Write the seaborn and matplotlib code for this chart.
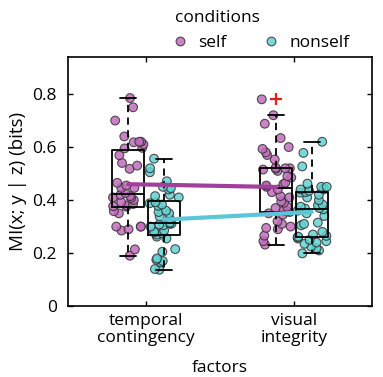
import numpy as np
import pandas as pd
import matplotlib
matplotlib.use("Agg")
import matplotlib.pyplot as plt
import seaborn as sns

# ---------------- data ----------------
factors = ["temporal\ncontingency", "visual\nintegrity"]
conditions = ["self", "nonself"]

temporal_self = [0.19, 0.214, 0.285, 0.29, 0.30, 0.30, 0.30, 0.35, 0.358, 0.375,
                 0.377, 0.38, 0.385, 0.392, 0.40, 0.408, 0.41, 0.415, 0.42, 0.427,
                 0.446, 0.446, 0.455, 0.465, 0.518, 0.53, 0.54, 0.569, 0.595, 0.597,
                 0.61, 0.618, 0.62, 0.62, 0.64, 0.70, 0.75, 0.785]
temporal_nonself = [0.137, 0.14, 0.165, 0.17, 0.175, 0.18, 0.205, 0.215, 0.255, 0.262,
                    0.27, 0.275, 0.278, 0.28, 0.285, 0.30, 0.305, 0.308, 0.31, 0.312,
                    0.315, 0.33, 0.338, 0.35, 0.355, 0.36, 0.378, 0.383, 0.388, 0.392,
                    0.41, 0.415, 0.42, 0.44, 0.445, 0.45, 0.471, 0.505, 0.52, 0.556]
visual_self = [0.232, 0.245, 0.266, 0.29, 0.295, 0.30, 0.31, 0.32, 0.345, 0.35,
               0.355, 0.357, 0.36, 0.37, 0.375, 0.39, 0.395, 0.41, 0.415, 0.43,
               0.44, 0.45, 0.455, 0.46, 0.465, 0.485, 0.49, 0.51, 0.515, 0.518,
               0.52, 0.52, 0.522, 0.553, 0.57, 0.58, 0.593, 0.60, 0.634, 0.688,
               0.72, 0.78]
visual_nonself = [0.199, 0.21, 0.218, 0.225, 0.235, 0.24, 0.245, 0.25, 0.255, 0.26,
                  0.262, 0.265, 0.27, 0.28, 0.305, 0.31, 0.315, 0.34, 0.35, 0.36,
                  0.365, 0.368, 0.37, 0.375, 0.38, 0.383, 0.40, 0.41, 0.42, 0.428,
                  0.43, 0.435, 0.44, 0.44, 0.445, 0.45, 0.45, 0.462, 0.527, 0.578,
                  0.62]

yticks = [0, 0.2, 0.4, 0.6, 0.8]
ytick_labels = ["0", "0.2", "0.4", "0.6", "0.8"]

# ---------------- build table ----------------
series = {
    (factors[0], "self"): temporal_self,
    (factors[0], "nonself"): temporal_nonself,
    (factors[1], "self"): visual_self,
    (factors[1], "nonself"): visual_nonself,
}
rows = []
for (f, c), vals in series.items():
    for v in vals:
        rows.append({"factor": f, "condition": c, "value": v})
df = pd.DataFrame(rows)

# dodge layout (style, not data)
dodge = {"self": -0.12, "nonself": 0.12}
df["pos"] = df["factor"].map({f: i for i, f in enumerate(factors)}) + df["condition"].map(dodge)

point_colors = {"self": "#C46CBE", "nonself": "#62D2D2"}
line_colors = {"self": "#A0409C", "nonself": "#5CC6D8"}

FS = 12.5

# ---------------- plot ----------------
sns.set_style("white")
plt.rcParams["font.family"] = ["Open Sans", "DejaVu Sans"]
plt.rcParams.update({"text.color": "black", "axes.labelcolor": "black",
                     "xtick.color": "black", "ytick.color": "black"})

fig = plt.figure(figsize=(3.83, 3.77), dpi=100)
ax = fig.add_axes([0.1775, 0.188, 0.7935, 0.661])

np.random.seed(3)
sns.stripplot(data=df, x="pos", y="value", hue="condition", hue_order=conditions,
              palette=point_colors, native_scale=True, dodge=False, jitter=0.45,
              size=6.3, linewidth=0.8, edgecolor="#333333", alpha=0.85,
              ax=ax, zorder=2)

sns.boxplot(data=df, x="pos", y="value", hue="condition", hue_order=conditions,
            palette={"self": "black", "nonself": "black"}, native_scale=True,
            dodge=False, fill=False, width=0.9, linewidth=1.3, legend=False,
            capwidths=0.108,
            whiskerprops={"linestyle": (0, (4, 3))},
            flierprops={"marker": "+", "markeredgecolor": "#E0201B",
                        "markersize": 8, "markeredgewidth": 1.6},
            ax=ax)
for ln in ax.lines:
    ln.set_zorder(3)

sns.lineplot(data=df, x="pos", y="value", hue="condition", hue_order=conditions,
             palette=line_colors, estimator="mean", errorbar=None, linewidth=3.0,
             legend=False, ax=ax, zorder=4)

ax.set_xlim(-0.527, 1.527)
ax.set_ylim(0, 0.94)
ax.set_xticks(range(len(factors)))
ax.set_xticklabels(factors, fontsize=FS, linespacing=1.1)
ax.set_yticks(yticks)
ax.set_yticklabels(ytick_labels, fontsize=FS)
ax.set_xlabel("factors", fontsize=FS, labelpad=10)
ax.set_ylabel("MI(x; y | z) (bits)", fontsize=13.5, labelpad=4)

for s in ax.spines.values():
    s.set_visible(True)
    s.set_color("black")
    s.set_linewidth(1.2)
ax.tick_params(direction="in", length=3.5, width=1, top=True, right=True,
               bottom=True, left=True, labelsize=FS, colors="black")
ax.tick_params(axis="y", pad=8)
ax.tick_params(axis="x", pad=5)

handles, labels = ax.get_legend_handles_labels()
leg = ax.legend(handles[:2], labels[:2], title="conditions", ncol=2,
                loc="lower left", bbox_to_anchor=(0.323, 0.99), frameon=False,
                fontsize=FS, title_fontsize=FS, handletextpad=0.75,
                columnspacing=2.25, borderaxespad=0.1, alignment="left",
                handlelength=0.6)
for h in leg.legend_handles:
    try:
        h.set_alpha(0.85)
    except Exception:
        pass

fig.savefig("out.png", dpi=100)
